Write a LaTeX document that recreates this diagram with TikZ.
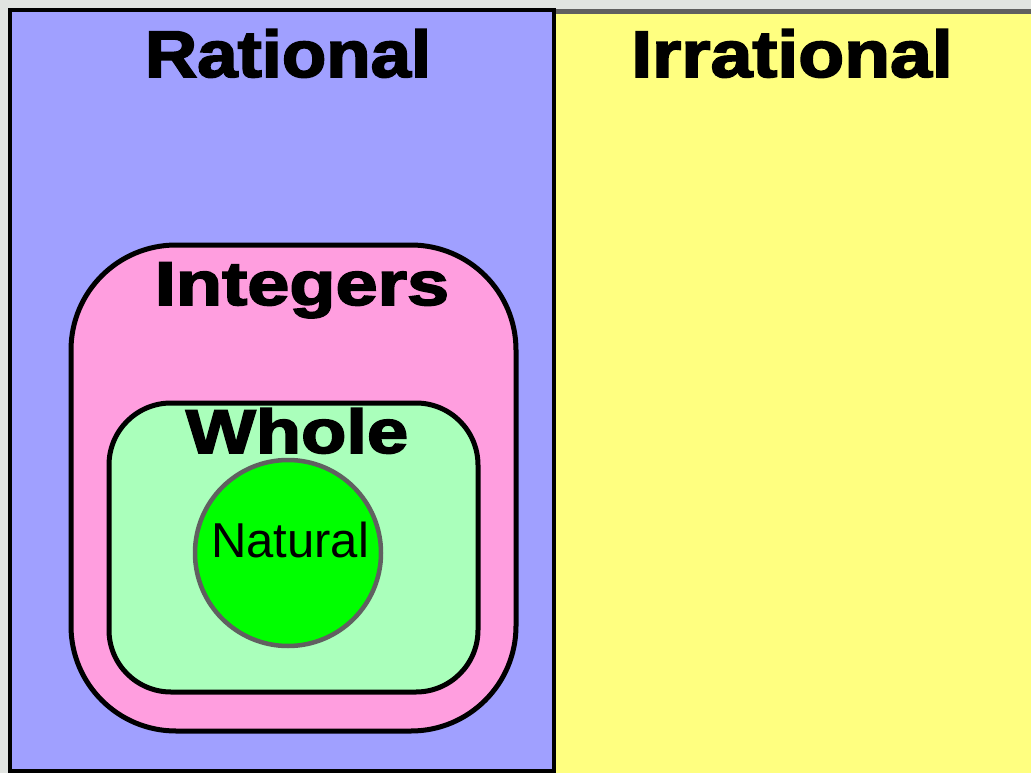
\documentclass[tikz,border=0pt]{standalone}
\usepackage{fontspec}
\setmainfont{Liberation Sans}
\newfontfamily\heavyfont[FakeBold=2.5]{Liberation Sans Bold}
\definecolor{bgGrey}{HTML}{E1E4E1}
\definecolor{ratBlue}{HTML}{A0A0FF}
\definecolor{irrYellow}{HTML}{FFFF80}
\definecolor{intPink}{HTML}{FF9EDF}
\definecolor{wholeGreen}{HTML}{AAFFBB}
\definecolor{natGreen}{HTML}{00FF00}
\definecolor{rimGrey}{HTML}{606060}
\tikzset{
  setbox/.style={draw=black, line width=5pt},
  bigtitle/.style={font=\heavyfont\fontsize{66}{70}\selectfont, anchor=base, inner sep=0pt, xscale=1.1},
  midtitle/.style={font=\heavyfont\fontsize{62}{66}\selectfont, anchor=base, inner sep=0pt, xscale=1.22},
}
\begin{document}
\begin{tikzpicture}[x=1pt,y=-1pt]
\useasboundingbox (0,0) rectangle (1031,773);
\fill[bgGrey] (0,0) rectangle (1031,773);
% Irrational region
\fill[irrYellow] (556,12) rectangle (1035,780);
\draw[rimGrey, line width=4.5pt] (556,11.5) -- (1035,11.5);
% Rational region
\draw[draw=black, line width=4.5pt, fill=ratBlue] (10,10) rectangle (554,771.5);
% Integers
\draw[setbox, fill=intPink, rounded corners=105pt] (71,245) rectangle (516,731);
% Whole
\draw[setbox, fill=wholeGreen, rounded corners=62pt] (109,403) rectangle (478,692);
% Natural
\node[circle, draw=rimGrey, line width=4.5pt, fill=natGreen, minimum size=186pt, inner sep=0pt] (nat) at (288,553) {};
% Labels
\node[bigtitle] (rat) at (288,77) {Rational};
\node[bigtitle, xscale=1.035] (irr) at (792,77) {Irrational};
\node[midtitle] (int) at (302,305) {Integers};
\node[midtitle, xscale=0.98] (who) at (297,453) {Whole};
\node[font=\fontsize{49}{53}\selectfont, anchor=base, inner sep=0pt] (natl) at (290,557) {Natural};
\end{tikzpicture}
\end{document}
